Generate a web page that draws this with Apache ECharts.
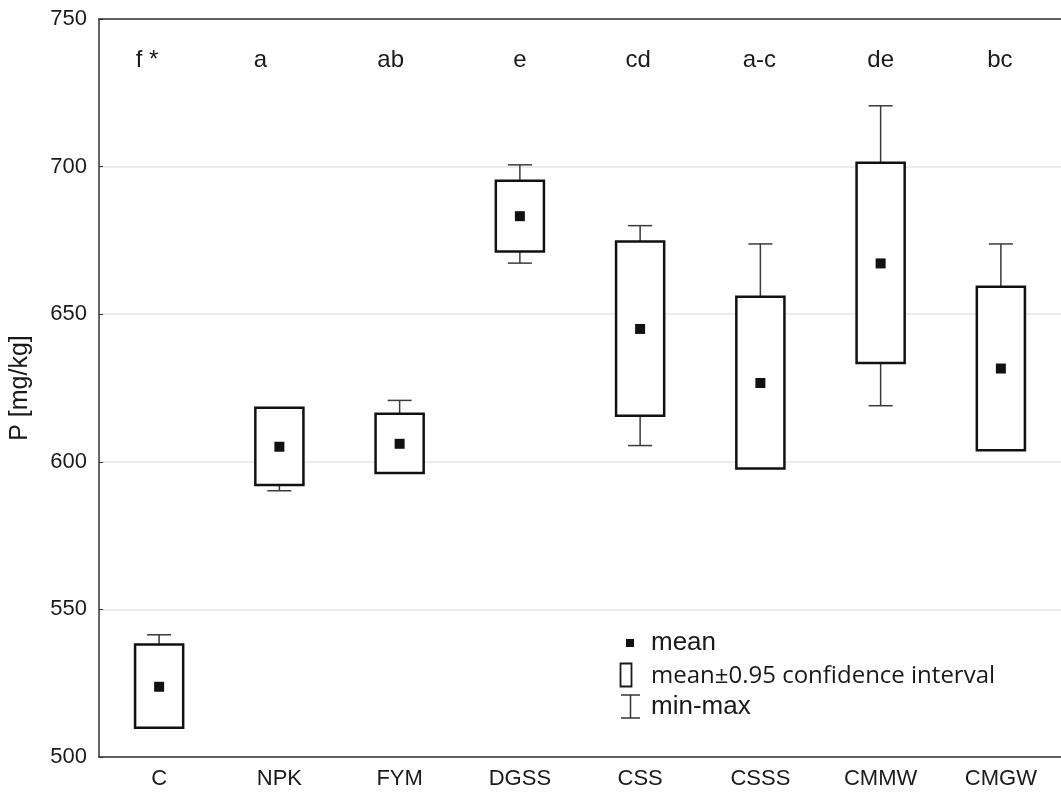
<!DOCTYPE html>
<html>
<head>
<meta charset="utf-8">
<script src="https://cdn.jsdelivr.net/npm/echarts@6/dist/echarts.min.js"></script>
<style>
  html, body { margin: 0; padding: 0; background: #fff; }
  #chart { width: 1061px; height: 794px; }
</style>
</head>
<body>
<div id="chart"></div>
<script>
// treatments
var categories = ['C', 'NPK', 'FYM', 'DGSS', 'CSS', 'CSSS', 'CMMW', 'CMGW'];
// P [mg/kg]
var means  = [523.8, 605.1, 606.1, 683.2, 645.0, 626.7, 667.2, 631.6];
var ciLow  = [509.9, 592.1, 596.2, 671.2, 615.6, 597.7, 633.5, 603.9];
var ciHigh = [538.1, 618.3, 616.3, 695.2, 674.6, 655.9, 701.3, 659.3];
var mins   = [509.9, 590.2, 596.2, 667.3, 605.5, 597.7, 619.0, 603.9];
var maxs   = [541.4, 618.3, 620.8, 700.6, 680.0, 673.8, 720.6, 673.8];
// homogeneous groups letters
var letters = ['f *', 'a', 'ab', 'e', 'cd', 'a-c', 'de', 'bc'];
var letterLevel = 736;

var boxData = categories.map(function (c, i) {
    return [i, ciLow[i], ciHigh[i], mins[i], maxs[i], means[i]];
});
var letterData = letters.map(function (t, i) {
    return [i, letterLevel];
});

function renderBox(params, api) {
    var i = api.value(0);
    var lo = api.coord([i, api.value(1)]);
    var hi = api.coord([i, api.value(2)]);
    var mn = api.coord([i, api.value(3)]);
    var mx = api.coord([i, api.value(4)]);
    var me = api.coord([i, api.value(5)]);
    var band = api.size([1, 0])[0];
    var bw = band * 0.2;   // half box width
    var cw = band * 0.1;   // half cap width
    var x = hi[0];
    var wStyle = { stroke: '#3a3a3a', lineWidth: 1.5 };
    var kids = [];
    if (mx[1] < hi[1] - 0.5) {
        kids.push({ type: 'line', shape: { x1: x, y1: mx[1], x2: x, y2: hi[1] }, style: wStyle });
        kids.push({ type: 'line', shape: { x1: x - cw, y1: mx[1], x2: x + cw, y2: mx[1] }, style: wStyle });
    }
    if (mn[1] > lo[1] + 0.5) {
        kids.push({ type: 'line', shape: { x1: x, y1: lo[1], x2: x, y2: mn[1] }, style: wStyle });
        kids.push({ type: 'line', shape: { x1: x - cw, y1: mn[1], x2: x + cw, y2: mn[1] }, style: wStyle });
    }
    kids.push({
        type: 'rect',
        shape: { x: x - bw, y: hi[1], width: bw * 2, height: lo[1] - hi[1] },
        style: { fill: '#fff', stroke: '#111', lineWidth: 2.5 }
    });
    kids.push({
        type: 'rect',
        shape: { x: x - 5, y: me[1] - 5, width: 10, height: 10 },
        style: { fill: '#111' }
    });
    return { type: 'group', children: kids };
}

// the letters in the figure sit a little left of some ticks
var letterNudge = [-12, -19, -9, 0, -2, -1, 0, -1];
function renderLetter(params, api) {
    var p = api.coord([api.value(0), api.value(1)]);
    return {
        type: 'text',
        x: p[0] + letterNudge[params.dataIndex], y: p[1],
        style: {
            text: letters[params.dataIndex],
            fill: '#1a1a1a',
            font: '24px "Liberation Sans", Arial, sans-serif',
            align: 'center',
            verticalAlign: 'middle'
        }
    };
}

var chart = echarts.init(document.getElementById('chart'));
var lblFont = { fontFamily: '"Liberation Sans", Arial, sans-serif', fontSize: 22, color: '#1a1a1a' };
var legFont = '"Liberation Sans", Arial, sans-serif';

var option = {
    animation: false,
    backgroundColor: '#fff',
    grid: { left: 97, top: 19, width: 968, height: 738 },
    xAxis: [{
        type: 'category',
        data: categories,
        axisLine: { lineStyle: { color: '#333', width: 1.5 } },
        axisTick: { inside: true, length: 4, alignWithLabel: true, lineStyle: { color: '#333' } },
        axisLabel: Object.assign({ margin: 11 }, lblFont),
        splitLine: { show: false }
    }, {
        type: 'category',
        position: 'top',
        data: categories,
        axisLine: { lineStyle: { color: '#333', width: 1.5 } },
        axisTick: { inside: true, length: 4, alignWithLabel: true, lineStyle: { color: '#333' } },
        axisLabel: { show: false }
    }],
    yAxis: {
        type: 'value',
        min: 500, max: 750, interval: 50,
        name: 'P [mg/kg]',
        nameLocation: 'middle',
        nameGap: 66,
        nameTextStyle: { fontFamily: lblFont.fontFamily, fontSize: 25, color: '#1a1a1a' },
        axisLine: { show: true, lineStyle: { color: '#333', width: 1.5 } },
        axisTick: { show: true, inside: true, length: 4, lineStyle: { color: '#333' } },
        axisLabel: Object.assign({ margin: 12 }, lblFont),
        splitLine: { lineStyle: { color: '#e4e4e4', width: 1.5 } }
    },
    series: [{
        type: 'custom',
        renderItem: renderBox,
        data: boxData,
        encode: { x: 0, y: [1, 2, 3, 4, 5] },
        z: 3
    }, {
        type: 'custom',
        renderItem: renderLetter,
        data: letterData,
        encode: { x: 0, y: 1 },
        z: 4
    }],
    graphic: [
        { type: 'rect', x: 626, y: 639, shape: { width: 8, height: 8 }, style: { fill: '#111' } },
        { type: 'text', x: 651, y: 643, style: { text: 'mean', fill: '#1a1a1a', font: '26px ' + legFont, verticalAlign: 'middle' } },
        { type: 'rect', x: 620.5, y: 663.5, shape: { width: 11, height: 23 }, style: { fill: '#fff', stroke: '#1a1a1a', lineWidth: 1.8 } },
        { type: 'text', x: 651, y: 676, style: { text: 'mean±0.95 confidence interval', fill: '#1a1a1a', font: '24px "Open Sans", sans-serif', verticalAlign: 'middle' } },
        { type: 'line', shape: { x1: 621, y1: 695, x2: 640, y2: 695 }, style: { stroke: '#333', lineWidth: 1.5 } },
        { type: 'line', shape: { x1: 630.5, y1: 695, x2: 630.5, y2: 718 }, style: { stroke: '#333', lineWidth: 1.5 } },
        { type: 'line', shape: { x1: 621, y1: 718, x2: 640, y2: 718 }, style: { stroke: '#333', lineWidth: 1.5 } },
        { type: 'text', x: 651, y: 707, style: { text: 'min-max', fill: '#1a1a1a', font: '26px ' + legFont, verticalAlign: 'middle' } }
    ]
};
chart.setOption(option);
</script>
</body>
</html>
